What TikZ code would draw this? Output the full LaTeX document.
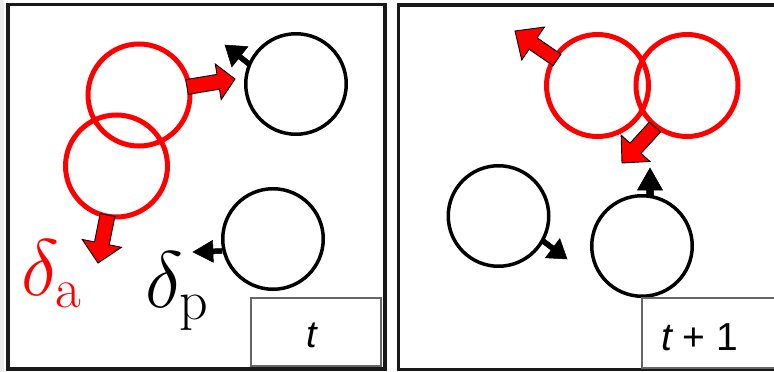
\RequirePackage{fix-cm}
\documentclass[tikz,border=0pt]{standalone}
\usepackage{fontspec}
\newfontfamily\arialish{Liberation Sans}
\usetikzlibrary{calc}
\tikzset{
  redring/.style={circle, draw=red, line width=5pt, minimum size=102pt, inner sep=0pt},
  blackring/.style={circle, draw=black, line width=3.5pt, minimum size=100.5pt, inner sep=0pt},
  panel/.style={draw=black!90, line width=3.5pt},
  timebox/.style={draw=black!60, line width=2pt},
  redarrow/.style={fill=red, draw=black, line width=0.9pt, line join=miter},
  blackarrow/.style={fill=black, draw=black, line width=0.5pt, line join=miter},
}
\newcommand\blockarrow[6]{% style, base, tip, shaft half width, head half width, head length
  \coordinate (bah) at ($(#3)!#6pt!(#2)$);
  \path[#1] ($(#2)!#4pt!90:(#3)$) -- ($(bah)!#4pt!90:(#3)$) -- ($(bah)!#5pt!90:(#3)$) -- (#3)
    -- ($(bah)!#5pt!-90:(#3)$) -- ($(bah)!#4pt!-90:(#3)$) -- ($(#2)!#4pt!-90:(#3)$) -- cycle;}
\begin{document}
\begin{tikzpicture}[x=1pt,y=-1pt]
\useasboundingbox (0,0) rectangle (774,372);
\fill[black!8] (0,0) rectangle (4,372);
% panels
\draw[panel] (8,4.5) rectangle (385,369);
\draw[panel] (398.5,5) rectangle (790,369.5);
% left panel circles
\node[redring] (ra1) at (139,95) {};
\node[redring] (ra2) at (116.5,166) {};
\node[blackring] (bp1) at (296,84) {};
\node[blackring] (bp2) at (273,239) {};
% right panel circles
\node[redring] (ra3) at (597.5,85.5) {};
\node[redring] (ra4) at (687,85.5) {};
\node[blackring] (bp3) at (498.5,216) {};
\node[blackring] (bp4) at (642,246) {};
% arrow end points
\coordinate (a1b) at (187,87);   \coordinate (a1t) at (235,79);
\coordinate (a2b) at (107.5,215); \coordinate (a2t) at (98,263);
\coordinate (a3b) at (249,64);   \coordinate (a3t) at (225,45);
\coordinate (a4b) at (222,251);  \coordinate (a4t) at (193,252);
\coordinate (a5b) at (557,60);   \coordinate (a5t) at (515,31);
\coordinate (a6b) at (655,127);  \coordinate (a6t) at (622,163);
\coordinate (a7b) at (650,197);  \coordinate (a7t) at (650,168);
\coordinate (a8b) at (543,241);  \coordinate (a8t) at (567,259);
\blockarrow{redarrow}{a1b}{a1t}{7.5}{18}{17}
\blockarrow{redarrow}{a2b}{a2t}{7.5}{20}{20}
\blockarrow{blackarrow}{a3b}{a3t}{2.5}{13}{19}
\blockarrow{blackarrow}{a4b}{a4t}{2.5}{11}{20}
\blockarrow{redarrow}{a5b}{a5t}{7}{20}{22}
\blockarrow{redarrow}{a6b}{a6t}{7.5}{19.5}{20}
\blockarrow{blackarrow}{a7b}{a7t}{3.5}{12.5}{22}
\blockarrow{blackarrow}{a8b}{a8t}{2.5}{12}{18}
% labels
\node[text=red, anchor=base west, inner sep=0pt] (da) at (21,295) {\fontsize{80}{90}\selectfont$\delta_{\mathrm{a}}$};
\node[text=black, anchor=base west, inner sep=0pt] (dp) at (145,307) {\fontsize{80}{90}\selectfont$\delta_{\mathrm{p}}$};
% time boxes
\draw[timebox] (251,298) rectangle (381,366);
\draw[timebox] (642,298) rectangle (790,368);
\node[anchor=base, inner sep=0pt] (tl) at (312,347) {\fontsize{38}{40}\selectfont\arialish\itshape t};
\node[anchor=base west, inner sep=0pt] (tr) at (661,350) {\fontsize{39}{42}\selectfont\arialish{\itshape t} + 1};
\end{tikzpicture}
\end{document}
